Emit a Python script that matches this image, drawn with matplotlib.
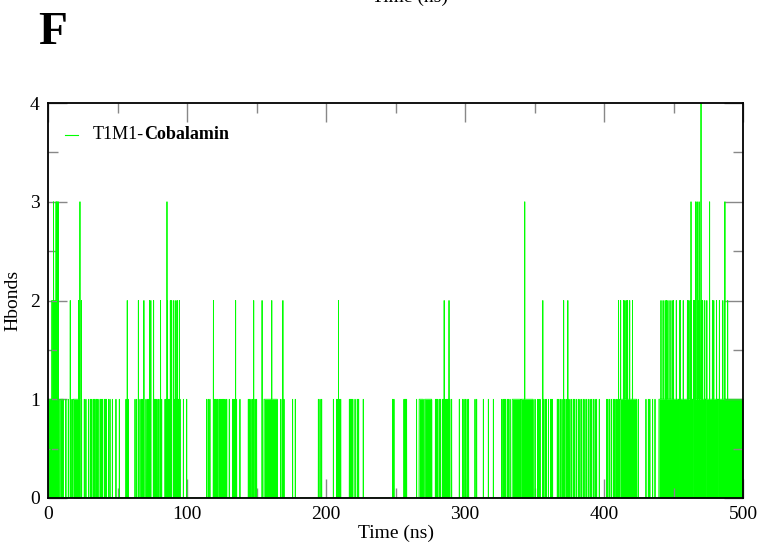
import numpy as np
import matplotlib
matplotlib.use("Agg")
import matplotlib.pyplot as plt
from matplotlib.ticker import MultipleLocator

plt.rcParams['font.family'] = ['Liberation Serif', 'DejaVu Serif']

# Hbonds T1M1-Cobalamin (ns)
dt = 0.1
t_end = 500.0

# các đoạn dày đặc có 1 liên kết
one_blocks = [(0.2, 2.0), (2.5, 8.0), (9.0, 11.0), (18.2, 23.0), (155.4, 165.0),
              (267.0, 270.0), (271.0, 276.0), (334.0, 340.0), (340.5, 349.0),
              (411.5, 423.5), (439.5, 500.0)]
# các vạch đơn lẻ có 1 liên kết
one_spikes = [12.9, 14.6, 16.3, 17.3, 24.2, 26.1, 27.3, 29.3, 30.5, 31.5, 32.6, 33.3,
              34.5, 35.2, 36.0, 37.5, 38.2, 39.0, 40.5, 41.2, 42.0, 43.5, 44.6, 46.3,
              48.9, 51.3, 56.1, 57.0, 57.8, 62.6, 63.8, 65.0, 66.2, 67.4, 68.2, 69.1,
              70.5, 71.5, 72.3, 73.4, 75.8, 76.6, 77.5, 78.4, 79.4, 80.6, 81.8, 84.2,
              85.0, 86.0, 86.8, 87.6, 88.3, 89.0, 91.4, 92.2, 93.0, 94.0, 95.0, 97.4,
              99.8, 114.2, 115.3, 116.5, 118.9, 119.8, 120.5, 121.5, 122.3, 123.5,
              124.4, 125.3, 126.5, 127.4, 128.6, 130.4, 132.9, 133.8, 134.7, 135.7,
              138.1, 144.1, 145.0, 146.0, 147.0, 148.0, 149.0, 150.1, 167.4, 168.5,
              169.8, 176.0, 177.9, 194.5, 195.7, 196.9, 205.3, 207.7, 208.6, 209.5,
              210.6, 216.8, 217.6, 218.5, 219.3, 220.9, 222.5, 223.5, 226.8, 248.0,
              248.9, 256.1, 256.8, 257.4, 258.0, 265.2, 278.7, 279.5, 280.4, 281.5,
              282.5, 283.9, 284.8, 285.6, 286.5, 287.4, 288.2, 289.1, 290.4, 295.9,
              298.3, 299.3, 300.4, 301.5, 302.6, 307.2, 308.4, 313.2, 316.8, 320.4,
              326.4, 327.4, 328.3, 329.2, 330.4, 331.2, 332.4, 350.4, 352.3, 353.2,
              354.0, 356.3, 357.6, 358.5, 360.0, 361.6, 362.4, 363.0, 366.4, 367.5,
              368.6, 369.8, 370.8, 371.9, 373.2, 374.5, 375.5, 376.8, 378.0, 379.0,
              380.2, 381.5, 382.7, 384.0, 385.2, 386.3, 387.5, 388.7, 390.0, 391.2,
              392.5, 393.6, 394.7, 396.6, 401.9, 402.8, 404.0, 405.2, 406.7, 407.8,
              408.8, 410.0, 410.8, 424.7, 430.2, 431.9, 433.0, 435.0, 436.7]
# khe trống trong đoạn cuối
zero_gaps = [454.0, 464.0, 473.0, 482.0]

two_blocks = [(2.6, 6.7)]
two_spikes = [16.0, 22.0, 24.0, 57.0, 65.0, 69.0, 73.0, 74.0, 76.0, 81.0, 86.0, 88.0,
              89.0, 90.5, 92.0, 93.0, 94.5, 119.0, 135.0, 148.0, 154.0, 161.0, 169.0,
              209.0, 285.0, 288.5, 356.0, 371.0, 374.0, 410.5, 412.0, 414.0, 415.0,
              416.0, 417.0, 418.5, 420.5, 441.0, 442.5, 444.0, 445.0, 446.0, 447.5,
              449.0, 450.0, 452.0, 454.5, 455.0, 457.0, 460.0, 461.0, 462.0, 463.0,
              464.5, 465.0, 467.5, 468.8, 470.5, 471.0, 472.5, 474.0, 478.0, 479.0,
              481.0, 483.0, 485.5, 489.0]
three_spikes = [4.0, 5.8, 6.5, 7.3, 23.0, 85.6, 343.0, 462.6, 466.0, 467.0, 468.4,
                476.0, 487.0]
four_spikes = [469.8]

time = np.arange(0, t_end + dt / 2, dt)
hb = np.zeros_like(time)
dense = np.zeros_like(time)  # mức của các đoạn dày đặc (tô kín)


def idx(x):
    return int(round(x / dt))


for a, b in one_blocks:
    m = (time >= a) & (time <= b)
    hb[m] = 1
    dense[m] = 1
for x in one_spikes:
    hb[idx(x)] = 1
for x in zero_gaps:
    hb[idx(x)] = 0
    dense[idx(x)] = 0
for a, b in two_blocks:
    m = (time >= a) & (time <= b)
    hb[m] = 2
    dense[m] = 2
for x in two_spikes:
    hb[idx(x)] = max(hb[idx(x)], 2)
for x in three_spikes:
    hb[idx(x)] = 3
for x in four_spikes:
    hb[idx(x)] = 4

fig = plt.figure(figsize=(7.74, 5.47), dpi=100)
ax = fig.add_axes([48 / 774, 1 - 498 / 547, 695 / 774, 395 / 547])

ax.fill_between(time, 0, dense, step='mid', color='#00ff00', lw=0)
ax.plot(time, hb, color='#00ff00', lw=0.6)

ax.set_xlim(0, 500)
ax.set_ylim(0, 4)
ax.xaxis.set_major_locator(MultipleLocator(100))
ax.xaxis.set_minor_locator(MultipleLocator(50))
ax.yaxis.set_major_locator(MultipleLocator(1))
ax.yaxis.set_minor_locator(MultipleLocator(0.5))
ax.tick_params(which='both', direction='in', top=True, right=True,
               color='#888888', labelsize=14, width=1)
ax.tick_params(which='major', length=14, pad=6)
ax.tick_params(which='minor', length=7)
for s in ax.spines.values():
    s.set_linewidth(1.3)

ax.set_xlabel('Time (ns)', fontsize=14, labelpad=1)
ax.set_ylabel('Hbonds', fontsize=14, labelpad=6)

# chú thích
ax.plot([17 / 695, 30 / 695], [1 - 31.5 / 395] * 2, transform=ax.transAxes,
        color='#00ff00', lw=0.8)
t1 = ax.text(45 / 695, 1 - 31.5 / 395, 'T1M1-', transform=ax.transAxes,
             fontsize=13, va='center')
ax.annotate('Cobalamin', xy=(1, 0), xycoords=t1, va='bottom', ha='left',
            fontsize=13, fontweight='bold')

fig.text(38 / 774, 1 - 44 / 547, 'F', fontsize=34, fontweight='bold', va='baseline')
fig.text(410 / 774, 1 - 2 / 547, 'Time (ns)', fontsize=14, ha='center', va='baseline')

fig.savefig('out.png', dpi=100)
